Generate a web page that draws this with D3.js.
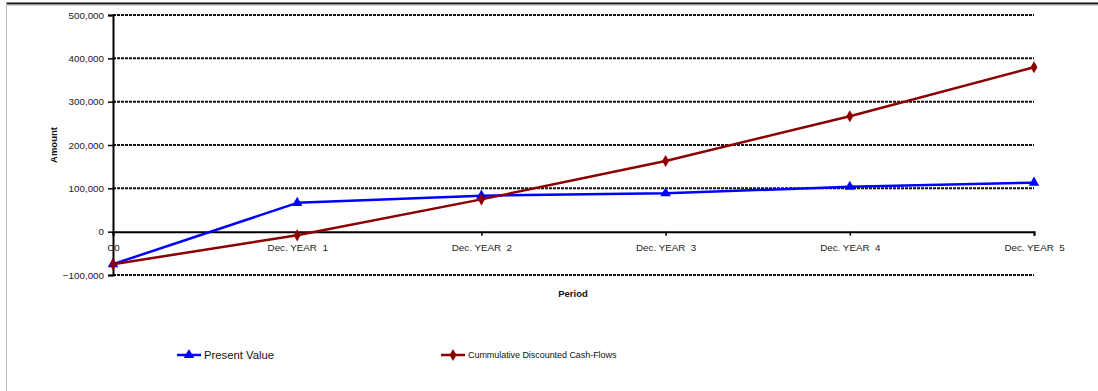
<!DOCTYPE html>
<html>
<head>
<meta charset="utf-8">
<script src="https://cdn.jsdelivr.net/npm/d3@7"></script>
<style>
  html, body { margin: 0; padding: 0; background: #fff; }
  svg { display: block; font-family: "Liberation Sans", Arial, sans-serif; }
</style>
</head>
<body>
<svg id="chart" width="1098" height="391"></svg>
<script>
// Periods along the horizontal axis
const periods = ["C0", "Dec. YEAR  1", "Dec. YEAR  2", "Dec. YEAR  3", "Dec. YEAR  4", "Dec. YEAR  5"];
// Discounted cash flow of each period
const presentValue = [-75000, 66500, 83000, 88500, 103500, 113000];
// Running total of the discounted cash flows
const cumulativeDCF = [-75000, -8500, 74500, 163000, 266500, 379500];
// Value axis ticks
const yTicks = [-100000, 0, 100000, 200000, 300000, 400000, 500000];

const svg = d3.select("#chart");

// Frame of the chart object
svg.append("line").attr("x1", 6).attr("x2", 1098).attr("y1", 3.5).attr("y2", 3.5)
  .attr("stroke", "#111").attr("stroke-width", 2);
svg.append("line").attr("x1", 6).attr("x2", 1098).attr("y1", 5).attr("y2", 5)
  .attr("stroke", "#aaa").attr("stroke-width", 1);
svg.append("line").attr("x1", 6.5).attr("x2", 6.5).attr("y1", 3).attr("y2", 391)
  .attr("stroke", "#bbb").attr("stroke-width", 1);

const x = d3.scalePoint().domain(periods).range([113, 1034]);
const y = d3.scaleLinear().domain([-100000, 500000]).range([275, 15]);
const fmt = d3.format(",");

// Horizontal gridlines
svg.append("g").selectAll("line").data(yTicks.filter(v => v !== 0)).join("line")
  .attr("x1", 113).attr("x2", 1034)
  .attr("y1", d => y(d)).attr("y2", d => y(d))
  .attr("stroke", "#111").attr("stroke-width", 2).attr("stroke-dasharray", "3,1");

// Value axis
const yAxis = svg.append("g").attr("transform", "translate(113,0)")
  .call(d3.axisLeft(y).tickValues(yTicks).tickFormat(fmt).tickSize(5).tickPadding(4));
yAxis.select(".domain").attr("stroke", "#000").attr("stroke-width", 2);
yAxis.selectAll(".tick line").attr("stroke", "#000").attr("stroke-width", 1.5);
yAxis.selectAll("text").attr("font-size", 9.8).attr("fill", "#222");

// Category axis on the zero line
const xAxis = svg.append("g").attr("transform", `translate(0,${y(0)})`)
  .call(d3.axisBottom(x).tickSize(4).tickPadding(8).tickSizeOuter(4));
xAxis.select(".domain").attr("stroke", "#000").attr("stroke-width", 2);
xAxis.selectAll(".tick line").attr("stroke", "#000").attr("stroke-width", 1.5);
xAxis.selectAll("text").attr("font-size", 9.8).attr("fill", "#222")
  .style("white-space", "pre").attr("xml:space", "preserve");

// Axis titles
svg.append("text").attr("transform", "translate(57,145) rotate(-90)")
  .attr("text-anchor", "middle").attr("font-size", 9.5).attr("font-weight", "bold")
  .attr("fill", "#111").text("Amount");
svg.append("text").attr("x", 573).attr("y", 297)
  .attr("text-anchor", "middle").attr("font-size", 9.5).attr("font-weight", "bold")
  .attr("fill", "#111").text("Period");

const line = d3.line().x((d, i) => x(periods[i])).y(d => y(d));
const tri = d3.symbol().type(d3.symbolTriangle).size(48);
const dia = d3.symbol().type(d3.symbolDiamond).size(42);

const series = [
  { name: "Present Value", values: presentValue, color: "#0000ff", symbol: tri },
  { name: "Cummulative Discounted Cash-Flows", values: cumulativeDCF, color: "#8b0000", symbol: dia }
];

series.forEach(s => {
  svg.append("path").datum(s.values).attr("d", line)
    .attr("fill", "none").attr("stroke", s.color).attr("stroke-width", 2.5)
    .attr("stroke-linejoin", "round");
  svg.append("g").selectAll("path").data(s.values).join("path")
    .attr("d", s.symbol)
    .attr("transform", (d, i) => `translate(${x(periods[i])},${y(d)})`)
    .attr("fill", s.color);
});

// Legend
const legend = [
  { s: series[0], x: 177, fontSize: 11.3, spacing: 0 },
  { s: series[1], x: 441, fontSize: 9, spacing: -0.05 }
];
legend.forEach(l => {
  const g = svg.append("g").attr("transform", `translate(${l.x},355)`);
  g.append("line").attr("x1", 0).attr("x2", 24).attr("y1", 0).attr("y2", 0)
    .attr("stroke", l.s.color).attr("stroke-width", 2.5);
  g.append("path").attr("d", l.s.symbol).attr("transform", "translate(12,0)")
    .attr("fill", l.s.color);
  g.append("text").attr("x", 27).attr("y", 0).attr("dy", "0.35em")
    .attr("font-size", l.fontSize).attr("fill", "#111")
    .attr("letter-spacing", l.spacing)
    .text(l.s.name);
});
</script>
</body>
</html>
